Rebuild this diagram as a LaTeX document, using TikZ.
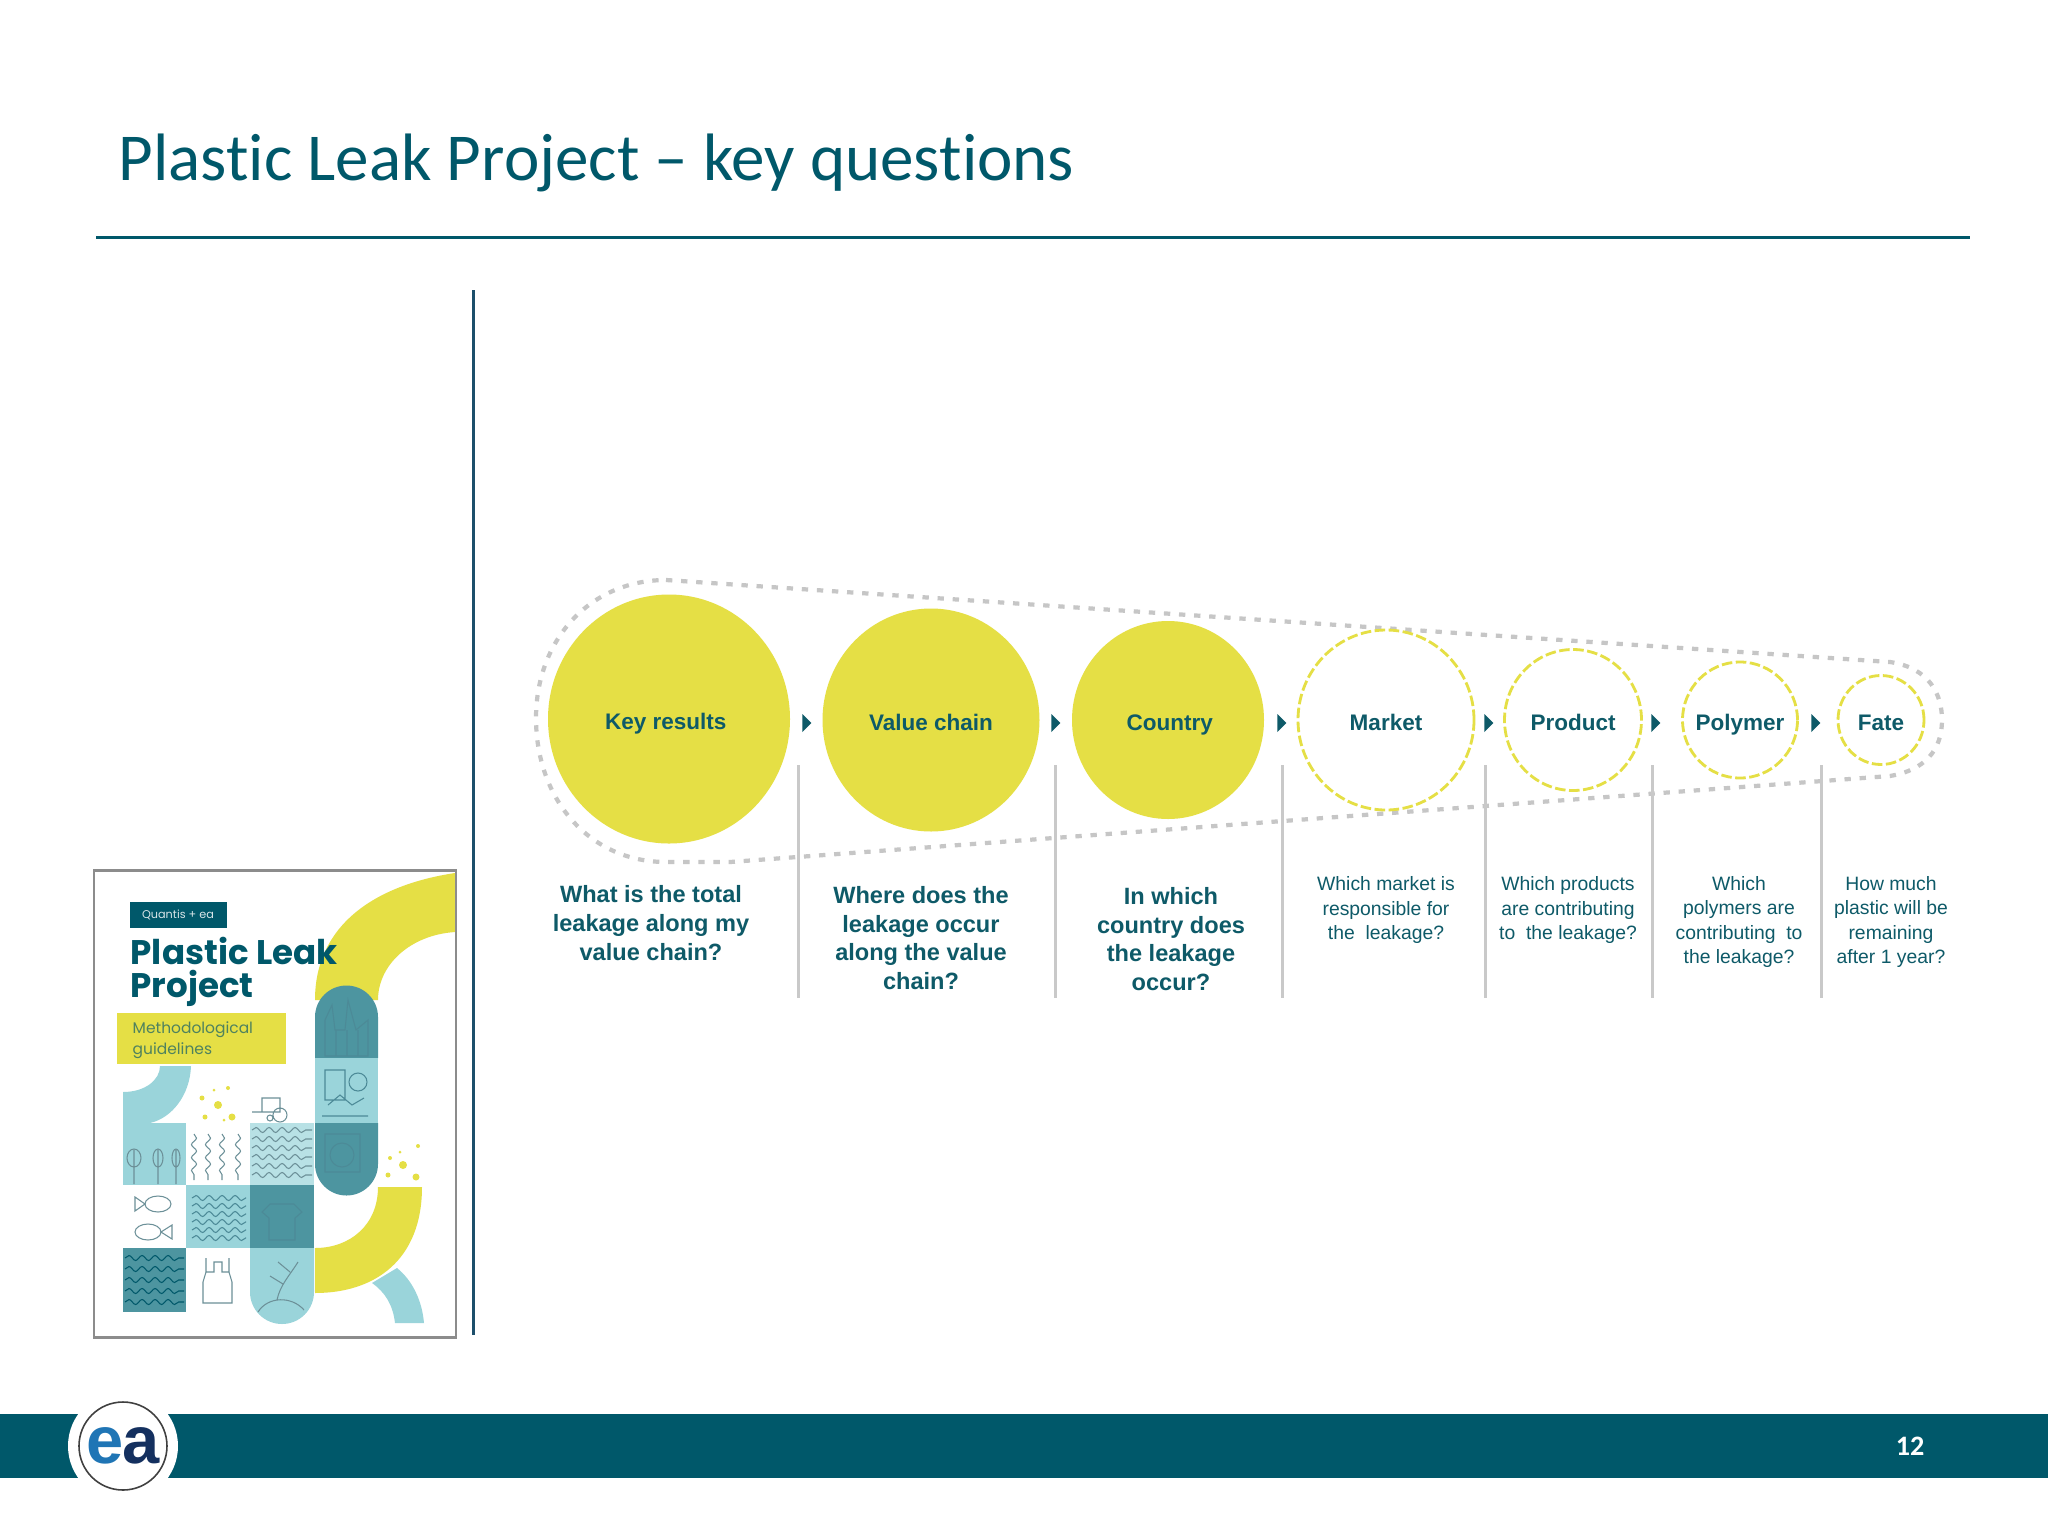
\documentclass[tikz,border=0pt]{standalone}
\usepackage{fontspec}
\setmainfont{Liberation Sans}
\newfontfamily\slidefont[Ligatures=CommonOff]{Carlito}
\newfontfamily\coverfont{Poppins}
\usetikzlibrary{shapes.geometric, positioning, decorations.pathmorphing}
\definecolor{tealdark}{HTML}{00586A}
\definecolor{teallabel}{HTML}{0E5A68}
\definecolor{limefill}{HTML}{E5DF45}
\definecolor{sepgray}{HTML}{C9C9C9}
\definecolor{coverlight}{HTML}{9AD4DA}
\definecolor{coverdark}{HTML}{4D95A0}
\definecolor{coverink}{HTML}{6C9098}
\definecolor{logoblue}{HTML}{1F75B5}
\definecolor{logonavy}{HTML}{14305F}

\begin{document}
\begin{tikzpicture}[
    x=0.01cm, y=-0.01cm,
    ball/.style 2 args={
        ellipse, inner sep=0pt, minimum width=#1*0.01cm, minimum height=#2*0.01cm,
        font=\fontsize{6.4}{8}\selectfont\bfseries, text=teallabel,
        text height=2.4mm, text depth=0.4mm
    },
    solidball/.style 2 args={ball={#1}{#2}, fill=limefill},
    ringball/.style 2 args={ball={#1}{#2}, draw=limefill, line width=0.8pt, dash pattern=on 3pt off 1pt},
    bigquestion/.style={align=center, text=teallabel, font=\fontsize{6.7}{8.2}\selectfont\bfseries},
    smallquestion/.style={align=center, text=teallabel, font=\fontsize{5.5}{6.85}\selectfont},
    tiphead/.style={
        isosceles triangle, isosceles triangle stretches, fill=teallabel, inner sep=0pt,
        minimum width=0.18cm, minimum height=0.09cm
    },
    separator/.style={draw=sepgray, line width=0.85pt},
    coverline/.style={draw=coverink, line width=0.3pt},
    wavy/.style={decorate, decoration={snake, amplitude=0.25mm, segment length=1.3mm}}
]
    \useasboundingbox (0,0) rectangle (2048,1536);
    \fill[white] (0,0) rectangle (2048,1536);
    % Header
    \node (title) [anchor=base west, inner sep=0pt, text=tealdark, font=\fontsize{19.07}{22}\selectfont\slidefont]
        at (118,180) {Plastic Leak Project – key questions};
    \draw [tealdark, line width=0.85pt] (96,237) -- (1970,237);
    \draw [draw={rgb,255:red,29;green,79;blue,107}, line width=0.85pt] (473,290) -- (473,1335);
    % Funnel outline
    \draw [gray!45, line width=1.2pt, dash pattern=on 1.8pt off 2.5pt]
        (666,580) -- (1890,662) .. controls (1930,668) and (1942,695) .. (1942,720)
        .. controls (1942,750) and (1925,770) .. (1890,776) -- (730,862) -- (666,862)
        .. controls (590,862) and (536,800) .. (536,718) .. controls (536,640) and (590,580) .. (666,580);
    % Stages
    \node (keyresults) [solidball={242}{249}] at (669,719) {\kern-1.8pt Key results};
    \node (valuechain) [solidball={217}{223}] at (931,720) {Value chain};
    \node (country) [solidball={192}{198}] at (1168,720) {\kern1pt Country};
    \node (market) [ringball={176}{180}] at (1386,720) {Market};
    \node (product) [ringball={137}{141}] at (1573,720) {Product};
    \node (polymer) [ringball={115}{116}] at (1740,720) {\makebox[0pt]{Polymer}};
    \node (fate) [ringball={86}{89}] at (1881,720) {Fate};
    % Arrow heads
    \foreach \px/\tipname in {806/a, 1055/b, 1281/c, 1488/d, 1655/e, 1815/f}
        \node (tip\tipname) [tiphead] at (\px,723) {};
    % Separators
    \foreach \px in {798, 1055, 1282, 1485, 1652, 1821}
        \draw [separator] (\px,765) -- (\px,998);
    % Questions
    \node (askkey) [bigquestion] at (651,923) {What is the total\\leakage along my\\value chain?};
    \node (askchain) [bigquestion] at (921,938) {Where does the\\leakage occur\\along the value\\chain?};
    \node (askcountry) [bigquestion] at (1171,939) {In which\\country does\\the leakage\\occur?};
    \node (askmarket) [smallquestion] at (1386,910) {Which market is\\responsible for\\the~ leakage?};
    \node (askproduct) [smallquestion] at (1568,910) {Which products\\are contributing\\to~ the leakage?};
    \node (askpolymer) [smallquestion] at (1739,922) {Which\\polymers are\\contributing~ to\\the leakage?};
    \node (askfate) [smallquestion] at (1891,922) {How much\\plastic will be\\remaining\\after 1 year?};
    % Cover shapes
    \fill[limefill] (455,873) .. controls (375,885) and (315,925) .. (315,1000) -- (378,1000)
        .. controls (378,965) and (410,935) .. (455,932) -- cycle;
    \fill[limefill] (422,1187) .. controls (422,1260) and (375,1293) .. (315,1293) -- (315,1248)
        .. controls (350,1248) and (378,1225) .. (378,1187) -- cycle;
    \fill[coverlight] (372,1283) -- (397,1268) .. controls (412,1280) and (422,1300) .. (424,1323)
        -- (395,1323) .. controls (393,1305) and (385,1292) .. (372,1283);
    \fill[coverlight] (123,1123) -- (123,1092) .. controls (145,1092) and (160,1080) .. (160,1066)
        -- (191,1066) .. controls (190,1095) and (172,1118) .. (150,1123) -- cycle;
    \fill[coverdark] (315,1058) -- (315,1017) arc[start angle=180, end angle=360, radius=31.5] -- (378,1058) -- cycle;
    \fill[coverlight] (315,1058) rectangle (378,1123);
    \fill[coverdark] (315,1123) -- (315,1164) arc[start angle=180, end angle=0, radius=31.5] -- (378,1123) -- cycle;
    \fill[coverlight] (123,1123) rectangle (186,1185);
    \fill[coverlight!70] (250,1123) rectangle (314,1185);
    \fill[coverlight] (186,1185) rectangle (250,1248);
    \fill[coverdark] (250,1185) rectangle (314,1248);
    \fill[coverdark] (123,1248) rectangle (186,1312);
    \fill[coverlight] (250,1248) -- (250,1292) arc[start angle=180, end angle=0, radius=32] -- (314,1248) -- cycle;
    \fill[limefill] (117,1013) rectangle (286,1064);
    \fill[tealdark] (130,902) rectangle (227,928);
    % Cover text
    \node (covertag) [text=white!85!tealdark, inner sep=0pt, font=\fontsize{3.2}{4}\selectfont\coverfont] at (178,915) {Quantis + ea};
    \node (covertitle) [anchor=north west, inner sep=0pt, align=left, text=tealdark,
        font=\fontsize{9.7}{9.5}\selectfont\coverfont\bfseries] at (130,936) {Plastic Leak\\Project};
    \node (coversub) [anchor=north west, inner sep=0pt, align=left, text=teallabel!70!limefill,
        font=\fontsize{4.4}{6}\selectfont\coverfont] at (132,1021) {Methodological\\guidelines};
    % Cover dots
    \foreach \px/\py/\dotsize in {218/1105/4, 202/1098/2.5, 228/1088/2, 205/1117/2.5, 232/1117/3.5, 214/1090/1.5, 224/1120/1.5,
            403/1165/4, 390/1158/2, 418/1146/2, 388/1175/2.5, 416/1177/3.5, 400/1152/1.5}
        \fill[limefill] (\px,\py) circle[radius=\dotsize];
    % Cover icons
    \foreach \px/\ry in {134/7, 158/5, 176/4}
        \draw [coverline] (\px,1158) ellipse[x radius=\ry, y radius=9] (\px,1150) -- (\px,1184);
    \foreach \px in {194, 208, 222, 238}
        \draw [coverline, wavy] (\px,1134) -- (\px,1180);
    \foreach \py in {1130, 1139, 1148, 1157, 1166, 1175}
        \draw [coverline, wavy] (252,\py) -- (312,\py);
    \foreach \py in {1198, 1206, 1214, 1222, 1230, 1238}
        \draw [coverline, tealdark!70, wavy] (192,\py) -- (246,\py);
    \foreach \py in {1258, 1269, 1280, 1291, 1302}
        \draw [coverline, tealdark, wavy] (125,\py) -- (184,\py);
    \draw [coverline] (158,1204) ellipse[x radius=13, y radius=8] (145,1204) -- (135,1197) -- (135,1211) -- cycle;
    \draw [coverline] (148,1232) ellipse[x radius=13, y radius=8] (161,1232) -- (172,1225) -- (172,1239) -- cycle;
    \draw [coverline] (206,1258) -- (206,1272) -- (203,1282) -- (203,1303) -- (232,1303) -- (232,1282) -- (229,1272) -- (229,1258)
        (206,1272) -- (214,1272) -- (214,1262) -- (222,1262) -- (222,1272) -- (229,1272);
    \draw [coverline, tealdark!70] (262,1212) -- (270,1204) -- (294,1204) -- (302,1212) -- (295,1218) -- (295,1240) -- (269,1240) -- (269,1218) -- cycle;
    \draw [coverline] (258,1312) .. controls (268,1296) and (292,1296) .. (304,1310)
        (277,1300) .. controls (280,1285) and (290,1275) .. (298,1262) (283,1284) -- (270,1276) (290,1272) -- (278,1262);
    \draw [coverline, tealdark!70] (325,1056) -- (325,1020) -- (332,1005) -- (335,1030) -- (345,1030) -- (348,1000) -- (356,1030) -- (368,1020) -- (368,1056) -- cycle
        (336,1030) -- (336,1056) (347,1030) -- (347,1056) (358,1030) -- (358,1056);
    \draw [coverline, tealdark!70] (325,1070) rectangle (345,1100) (358,1082) circle[radius=9] (322,1116) -- (368,1116)
        (328,1105) -- (340,1095) -- (352,1105) -- (364,1098);
    \draw [coverline, tealdark!70] (325,1134) rectangle (360,1172) (342,1155) circle[radius=12];
    \draw [coverline] (262,1098) rectangle (280,1112) (270,1118) circle[radius=3] (280,1115) circle[radius=7] (252,1112) -- (262,1112);
    % Cover frame
    \draw [gray!90, line width=0.85pt] (94,870) rectangle (456,1337);
    % Footer
    \fill[tealdark] (0,1414) rectangle (2048,1478);
    \fill[white] (123,1446) circle[radius=55];
    \draw [gray!50!black, line width=0.45pt] (123,1446) circle[radius=44];
    \node (logoe) [inner sep=0pt, text=logoblue, font=\fontsize{19}{20}\selectfont\bfseries] at (105,1446) {e};
    \node (logoa) [inner sep=0pt, text=logonavy, font=\fontsize{19}{20}\selectfont\bfseries] at (141,1446) {a};
    \node (pageno) [text=white, font=\fontsize{8}{9}\selectfont\slidefont\bfseries] at (1910,1446) {12};
\end{tikzpicture}
\end{document}
